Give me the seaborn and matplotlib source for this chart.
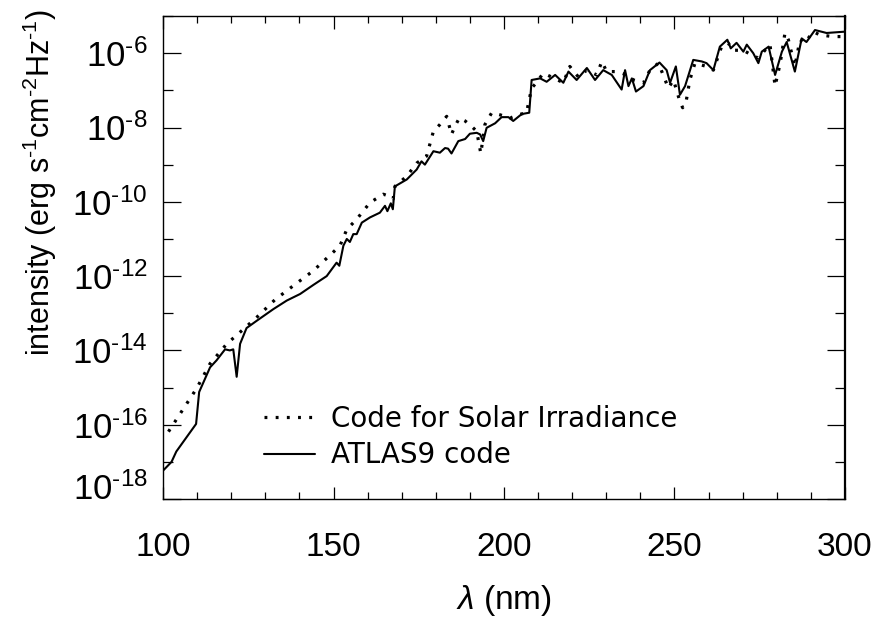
import numpy as np
import pandas as pd
import matplotlib
matplotlib.use("Agg")
import matplotlib.pyplot as plt
import matplotlib.transforms as mtransforms
from matplotlib.ticker import FixedLocator, NullFormatter
import seaborn as sns

# --- dati ---
lam_atlas = [100, 102.5, 103.9, 109.7, 110.6, 113.8, 115.7, 118.2, 119.6, 120.6, 121.6, 122.6,
             124.5, 127.5, 132.4, 136.3, 140.2, 144.1, 148, 150.9, 151.7, 152.9, 153.9, 154.8,
             155.8, 156.8, 158.3, 160.7, 163.6, 165.1, 165.8, 166.8, 167.4, 168, 171.5, 174.4,
             175.8, 176.8, 179.3, 181.2, 182.7, 183.6, 184.6, 186.6, 188.6, 190, 192, 193,
             193.9, 194.9, 197.4, 199.3, 201.3, 202.7, 205.2, 207.4, 208.1, 210.6, 212.5, 215,
             217.4, 218.9, 221.3, 224.3, 226.7, 229.1, 231.6, 234.5, 235.5, 236.5, 237.5, 238.7,
             240.9, 242.8, 245.6, 247.7, 248.7, 250.4, 251.6, 253.1, 255.5, 258, 259.4, 261.4,
             263.3, 265.5, 266.5, 268.2, 270.2, 271.2, 273.1, 274.6, 275.6, 277.6, 279.5, 281.5,
             282.9, 285.3, 287.3, 288.7, 291.2, 294.6, 300]
int_atlas = [5.8e-18, 1.0e-17, 1.9e-17, 1.05e-16, 7.6e-16, 3.5e-15, 5.4e-15, 1.07e-14, 1.0e-14,
             1.07e-14, 1.95e-15, 1.5e-14, 4.0e-14, 6.3e-14, 1.3e-13, 2.2e-13, 3.3e-13, 5.8e-13,
             1.0e-12, 2.3e-12, 1.9e-12, 6.6e-12, 1.0e-11, 8.3e-12, 1.35e-11, 1.35e-11, 2.75e-11,
             3.8e-11, 5.1e-11, 7.8e-11, 5.6e-11, 9.1e-11, 6.3e-11, 2.6e-10, 4.0e-10, 7.4e-10,
             1.23e-9, 1.0e-9, 2.3e-9, 2.1e-9, 2.8e-9, 2.7e-9, 2.0e-9, 4.3e-9, 4.9e-9, 6.8e-9,
             7.2e-9, 6.5e-9, 4.3e-9, 9.8e-9, 1.3e-8, 1.9e-8, 1.9e-8, 1.5e-8, 2.3e-8, 2.5e-8,
             1.9e-7, 2.1e-7, 1.7e-7, 2.6e-7, 1.6e-7, 3.2e-7, 1.9e-7, 4.0e-7, 1.9e-7, 3.5e-7,
             2.6e-7, 1.05e-7, 3.5e-7, 1.3e-7, 2.1e-7, 9.3e-8, 1.3e-7, 3.5e-7, 5.6e-7, 3.5e-7,
             1.6e-7, 4.4e-7, 7.6e-8, 1.3e-7, 6.6e-7, 6.0e-7, 5.4e-7, 3.5e-7, 1.5e-6, 2.3e-6,
             1.35e-6, 1.9e-6, 1.1e-6, 1.7e-6, 1.0e-6, 5.4e-7, 1.1e-6, 1.5e-6, 2.6e-7, 1.1e-6,
             2.0e-6, 3.2e-7, 2.5e-6, 2.0e-6, 4.2e-6, 3.5e-6, 3.8e-6]

lam_csi = [101.6, 109.8, 113.8, 118.7, 122.6, 127.5, 132.8, 138.2, 144.1, 149.9, 151.9, 153.9,
           156.8, 160.7, 164.6, 166, 167.5, 168, 171.5, 174.4, 177.3, 179.3, 181.2, 183.2,
           184.6, 185.6, 186.9, 188.6, 190.5, 192, 193.2, 194.4, 196.4, 198.8, 201.8, 204.2,
           206.6, 207.4, 208.1, 209.5, 211.5, 213.9, 217.4, 219.3, 221.8, 224.3, 227.2, 228.7,
           230.1, 233.1, 236, 238, 240.9, 242.8, 245.3, 248.2, 249.7, 251.6, 252.4, 253.5,
           254.5, 256, 259.4, 261.4, 263.8, 265.7, 267.2, 270.2, 272.6, 274.6, 277, 278,
           279.5, 281, 282.4, 283.4, 285.3, 286.8, 288.2, 290.7, 292.6, 296.5, 300]
int_csi = [6.5e-17, 9.3e-16, 4.4e-15, 1.5e-14, 3.1e-14, 7.8e-14, 2.3e-13, 5.5e-13, 1.4e-12,
           4.4e-12, 6.6e-12, 1.8e-11, 3.4e-11, 9.5e-11, 1.6e-10, 1.45e-10, 1.2e-10, 2.6e-10,
           4.9e-10, 1.1e-9, 1.7e-9, 7.9e-9, 1.2e-8, 2.0e-8, 6.5e-9, 1.07e-8, 1.8e-8, 1.5e-8,
           1.07e-8, 7.9e-9, 2.0e-9, 1.2e-8, 2.5e-8, 2.2e-8, 1.8e-8, 2.2e-8, 2.5e-8, 5.6e-8,
           1.15e-7, 1.6e-7, 2.9e-7, 2.3e-7, 1.6e-7, 4.4e-7, 2.3e-7, 3.5e-7, 2.6e-7, 6.0e-7,
           3.2e-7, 3.2e-7, 2.6e-7, 1.9e-7, 1.6e-7, 3.5e-7, 5.4e-7, 1.15e-7, 1.9e-7, 5.0e-8,
           3.4e-8, 5.6e-8, 1.9e-7, 5.4e-7, 4.4e-7, 3.5e-7, 1.5e-6, 1.9e-6, 1.2e-6, 1.2e-6,
           8.9e-7, 7.4e-7, 1.35e-6, 1.7e-6, 1.3e-7, 5.4e-7, 3.5e-6, 2.3e-6, 4.4e-7, 2.3e-6,
           1.9e-6, 3.8e-6, 3.1e-6, 2.8e-6, 2.8e-6]

series_labels = ['Code for Solar Irradiance', 'ATLAS9 code']
x_ticks = [100, 150, 200, 250, 300]
y_ticks = [1e-18, 1e-16, 1e-14, 1e-12, 1e-10, 1e-8, 1e-6]
y_ticklabels = [r'$10^{\text{-}18}$', r'$10^{\text{-}16}$', r'$10^{\text{-}14}$', r'$10^{\text{-}12}$',
                r'$10^{\text{-}10}$', r'$10^{\text{-}8}$', r'$10^{\text{-}6}$']

df_csi = pd.DataFrame({'lam': lam_csi, 'I': int_csi})
df_atlas = pd.DataFrame({'lam': lam_atlas, 'I': int_atlas})

# --- stile ---
sns.set_theme(style='ticks')
plt.rcParams['font.family'] = ['Liberation Sans', 'DejaVu Sans']
plt.rcParams['mathtext.fontset'] = 'custom'
plt.rcParams['mathtext.rm'] = 'Liberation Sans'
plt.rcParams['mathtext.it'] = 'Liberation Sans:italic'
plt.rcParams['mathtext.default'] = 'regular'
for k in ['text.color', 'axes.labelcolor', 'xtick.color', 'ytick.color', 'axes.edgecolor']:
    plt.rcParams[k] = 'black'

fig = plt.figure(figsize=(8.75, 6.17), dpi=100)
ax = fig.add_axes([0.1863, 0.1912, 0.7794, 0.7828])

sns.lineplot(data=df_csi, x='lam', y='I', ax=ax, color='black', lw=2.3,
             linestyle=(0, (0.9, 2.6)), estimator=None, sort=False, label=series_labels[0])
sns.lineplot(data=df_atlas, x='lam', y='I', ax=ax, color='black', lw=1.5,
             estimator=None, sort=False, label=series_labels[1])

ax.set_yscale('log')
ax.set_xlim(100, 300)
ax.set_ylim(1e-18, 1e-5)

# tick maggiori e minori
ax.xaxis.set_major_locator(FixedLocator(x_ticks))
ax.xaxis.set_minor_locator(FixedLocator(np.arange(100, 301, 10)))
ax.set_xticklabels([str(t) for t in x_ticks])
ax.yaxis.set_major_locator(FixedLocator(y_ticks))
ax.yaxis.set_minor_locator(FixedLocator([1e-17, 1e-15, 1e-13, 1e-11, 1e-9, 1e-7, 1e-5]))
ax.yaxis.set_minor_formatter(NullFormatter())
ax.set_yticklabels(y_ticklabels)

ax.tick_params(axis='both', which='both', direction='in', top=True, right=True, color='black')
ax.tick_params(axis='x', which='major', length=9, width=0.9, labelsize=24, pad=24)
ax.tick_params(axis='x', which='minor', length=5, width=0.9)
ax.tick_params(axis='y', which='major', length=13, width=0.9, labelsize=25, pad=11)
ax.tick_params(axis='y', which='minor', length=7, width=0.9)

# l'etichetta 10^-18 è spostata in alto come nell'originale
lbl = ax.get_yticklabels()[0]
lbl.set_transform(lbl.get_transform() + mtransforms.ScaledTranslation(0, 0.13, fig.dpi_scale_trans))

for s in ax.spines.values():
    s.set_color('black')
    s.set_linewidth(1.0)
ax.spines['right'].set_linewidth(1.6)

ax.set_xlabel(r'$\mathit{\lambda}$ (nm)', fontsize=24, labelpad=14)
ax.set_ylabel(r'intensity (erg s$^{\text{-}1}$cm$^{\text{-}2}$Hz$^{\text{-}1}$)', fontsize=22)
ax.yaxis.set_label_coords(-0.152, 0.655)

leg = ax.legend(loc='center left', bbox_to_anchor=(0.148, 0.128), frameon=False,
                prop={'family': 'DejaVu Sans', 'size': 20}, handlelength=1.85,
                handletextpad=0.55, labelspacing=0.3, borderpad=0, borderaxespad=0)

fig.savefig('out.png', dpi=100)
